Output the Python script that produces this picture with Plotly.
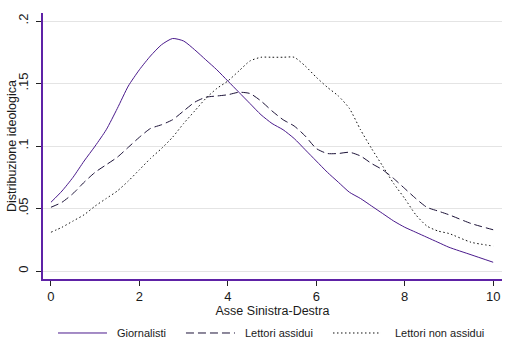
import plotly.graph_objects as go

x_vals = [0, 0.25, 0.5, 0.75, 1, 1.25, 1.5, 1.75, 2, 2.25, 2.5, 2.75, 3, 3.25, 3.5, 3.75,
          4, 4.25, 4.5, 4.75, 5, 5.25, 5.5, 5.75, 6, 6.25, 6.5, 6.75, 7, 7.25, 7.5, 7.75,
          8, 8.25, 8.5, 8.75, 9, 9.5, 10]

giornalisti = [0.055, 0.064, 0.075, 0.088, 0.100, 0.113, 0.130, 0.148, 0.161, 0.172, 0.181, 0.186,
               0.184, 0.177, 0.169, 0.161, 0.152, 0.143, 0.134, 0.125, 0.118, 0.113, 0.106, 0.097,
               0.088, 0.079, 0.071, 0.063, 0.058, 0.052, 0.046, 0.040, 0.035, 0.031, 0.027, 0.023,
               0.019, 0.013, 0.007]

lettori_assidui = [0.051, 0.055, 0.062, 0.071, 0.079, 0.085, 0.091, 0.099, 0.107, 0.114, 0.117, 0.121,
                   0.128, 0.135, 0.139, 0.140, 0.141, 0.143, 0.142, 0.136, 0.128, 0.121, 0.116, 0.108,
                   0.098, 0.094, 0.094, 0.095, 0.092, 0.086, 0.081, 0.074, 0.066, 0.058, 0.051, 0.048,
                   0.045, 0.038, 0.033]

lettori_non_assidui = [0.031, 0.035, 0.040, 0.045, 0.052, 0.058, 0.064, 0.072, 0.081, 0.090, 0.098, 0.107,
                       0.118, 0.128, 0.138, 0.146, 0.152, 0.160, 0.168, 0.171, 0.171, 0.171, 0.171, 0.164,
                       0.155, 0.147, 0.140, 0.130, 0.113, 0.098, 0.084, 0.070, 0.058, 0.045, 0.036, 0.032,
                       0.030, 0.023, 0.020]

series_names = ["Giornalisti", "Lettori assidui", "Lettori non assidui"]
series_values = [giornalisti, lettori_assidui, lettori_non_assidui]

x_ticks = [0, 2, 4, 6, 8, 10]
y_ticks = [0, 0.05, 0.1, 0.15, 0.2]
y_ticklabels = ["0", ".05", ".1", ".15", ".2"]

FONT = "Liberation Sans, Arial, sans-serif"
AXIS_COLOR = "#5e22a6"
line_colors = ["#4a1a8c", "#1c1238", "#111111"]
line_dashes = ["solid", "8px,4px", "1.5px,2.5px"]

fig = go.Figure()
for name, vals, col, dash in zip(series_names, series_values, line_colors, line_dashes):
    fig.add_trace(go.Scatter(x=x_vals, y=vals, mode="lines", name=name, showlegend=False,
                             line=dict(color=col, width=1, dash=dash, shape="spline", smoothing=0.6)))

# manual legend (paper coordinates)
legend_y = -0.203
sample_x = [(0.0327, 0.1394), (0.3115, 0.4183), (0.6318, 0.7364)]
text_x = [0.1569, 0.4357, 0.7625]
shapes = []
annotations = []
for (x0, x1), tx, name, col, dash in zip(sample_x, text_x, series_names, line_colors, line_dashes):
    shapes.append(dict(type="line", xref="paper", yref="paper", x0=x0, x1=x1, y0=legend_y, y1=legend_y,
                       line=dict(color=col, width=1, dash=dash)))
    annotations.append(dict(xref="paper", yref="paper", x=tx, y=legend_y, text=name, showarrow=False,
                            xanchor="left", yanchor="middle", font=dict(size=11, color="#1a1a1a")))

# y-axis title as rotated annotation
annotations.append(dict(xref="paper", yref="paper", x=-0.0675, y=0.5, text="Distribuzione ideologica",
                        textangle=-90, showarrow=False, xanchor="center", yanchor="middle",
                        font=dict(size=12.5, color="#1a1a1a")))

fig.update_layout(
    width=514, height=350,
    margin=dict(l=43, r=12, t=13, b=71),
    paper_bgcolor="white", plot_bgcolor="white",
    font=dict(family=FONT, size=12, color="#1a1a1a"),
    showlegend=False,
    shapes=shapes,
    annotations=annotations,
    xaxis=dict(range=[-0.18, 10.2], tickvals=x_ticks, ticks="outside", ticklen=5,
               tickcolor="#222222", showline=True, linecolor=AXIS_COLOR, linewidth=1.5,
               showgrid=False, zeroline=False, tickfont=dict(size=13), automargin=False,
               title=dict(text="Asse Sinistra-Destra", font=dict(size=12.5), standoff=0)),
    yaxis=dict(range=[-0.0064, 0.2064], tickvals=y_ticks, ticktext=y_ticklabels,
               tickangle=-90, ticks="outside", ticklen=5, tickcolor="#222222",
               ticklabelstandoff=3,
               showline=True, linecolor=AXIS_COLOR, linewidth=1.5,
               showgrid=True, gridcolor="#e4e4e4", gridwidth=1, zeroline=False,
               tickfont=dict(size=13), automargin=False),
)

fig.write_html("out.html")
